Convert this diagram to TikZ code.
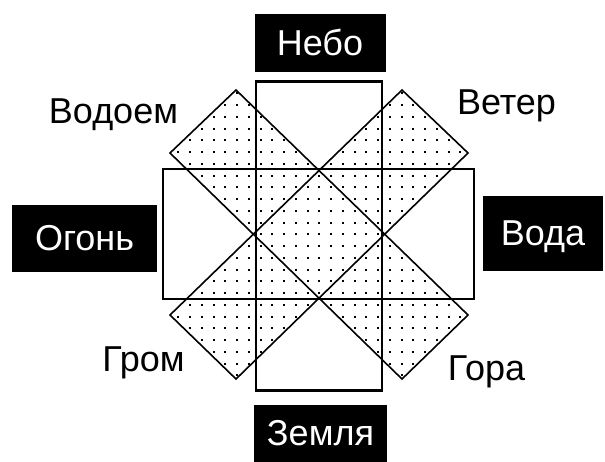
\documentclass[tikz,border=0pt]{standalone}
\usepackage{fontspec}
\setmainfont{Liberation Sans}
\begin{document}
\begin{tikzpicture}[x=0.75pt,y=-0.75pt,
  font=\fontsize{27}{30}\selectfont,
  lbl/.style={inner sep=0pt, text height=19.3pt, text depth=0pt},
  blackbox/.style={fill=black, text=white, inner sep=0pt, text height=19.3pt, text depth=0pt},
  rectline/.style={line width=2.2pt},
  bandline/.style={line width=1.2pt},
  dot/.style={fill=black}]
\useasboundingbox (0,0) rectangle (605,461);
\fill[white] (0,0) rectangle (605,461);

% corners of the two diagonal bands
\coordinate (a1) at (236,90);  \coordinate (a2) at (468,315);
\coordinate (a3) at (402,379); \coordinate (a4) at (170,153);
\coordinate (b1) at (402,90);  \coordinate (b2) at (468,153);
\coordinate (b3) at (236,379); \coordinate (b4) at (170,315);

% dotted fill of the bands
\begin{scope}
\clip (a1) -- (a2) -- (a3) -- (a4) -- cycle;
\foreach \i in {-1,...,24}{\foreach \j in {-1,...,24}{
  \fill[dot] ({190+11.75*\i-1},{105+11.75*\j-1}) rectangle ++(2,2);}}
\end{scope}
\begin{scope}
\clip (b1) -- (b2) -- (b3) -- (b4) -- cycle;
\foreach \i in {-1,...,24}{\foreach \j in {-1,...,24}{
  \fill[dot] ({190+11.75*\i-1},{105+11.75*\j-1}) rectangle ++(2,2);}}
\end{scope}

% band outlines
\draw[bandline] (a1) -- (a2) -- (a3) -- (a4) -- cycle;
\draw[bandline] (b1) -- (b2) -- (b3) -- (b4) -- cycle;

% rectangles
\draw[rectline] (256,81.5) rectangle (382,390.5);
\draw[rectline] (163,169) rectangle (474,299);

% black boxes
\node[blackbox, minimum width=98.25pt, minimum height=43.5pt] (nebo) at (320,43) {Небо};
\node[blackbox, minimum width=90pt, minimum height=56.25pt] (voda) at (543,233) {Вода};
\node[blackbox, minimum width=108.75pt, minimum height=50.25pt] (ogon) at (84.5,238) {Огонь};
\node[blackbox, minimum width=99.75pt, minimum height=42.75pt] (zemlya) at (320.5,433) {Земля};

% plain labels
\node[lbl] (vodoem) at (113.5,110.5) {Водоем};
\node[lbl] (veter) at (506.5,101.5) {Ветер};
\node[lbl] (grom) at (143.5,359) {Гром};
\node[lbl] (gora) at (486.5,368) {Гора};
\end{tikzpicture}
\end{document}
